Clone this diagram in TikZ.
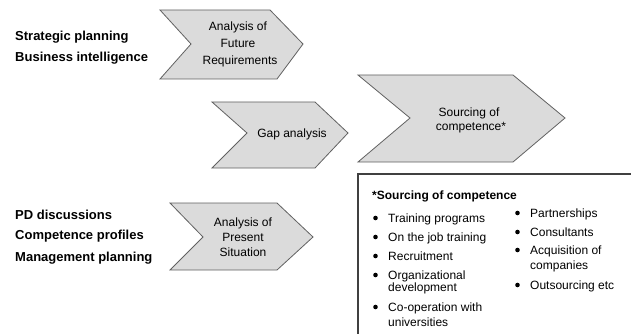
\documentclass[tikz,border=0pt]{standalone}
\usepackage{fontspec}
\setmainfont{Liberation Sans}
\begin{document}
\begin{tikzpicture}[x=1pt,y=-1pt,
  chev/.style={fill=black!14, draw=black!62, line width=0.8pt, line join=miter},
  chevtext/.style={font=\fontsize{12}{14}\selectfont, anchor=base, inner sep=0pt},
  lefttext/.style={font=\fontsize{13}{15}\selectfont\bfseries, anchor=base west, inner sep=0pt},
  boxtext/.style={font=\fontsize{12}{14}\selectfont, anchor=base west, inner sep=0pt},
  bul/.style={fill=black, draw=none, circle, inner sep=0pt, minimum size=4.6pt}]
\useasboundingbox (0,0) rectangle (631,334);
\fill[white] (0,0) rectangle (631,334);

% chevrons
\draw[chev] (160,10) -- (270,10) -- (303,44) -- (277,79) -- (160,79) -- (191,44) -- cycle;
\draw[chev] (212,102) -- (315,102) -- (348,133) -- (315,168) -- (212,168) -- (247,133) -- cycle;
\draw[chev] (358,75) -- (513,75) -- (565,118) -- (513,162) -- (358,162) -- (410,118) -- cycle;
\draw[chev] (170,203) -- (277,203) -- (313,237) -- (277,270) -- (170,270) -- (203,237) -- cycle;

% chevron texts
\node[chevtext] (f1) at (238,31) {Analysis of};
\node[chevtext] (f2) at (238,48) {Future};
\node[chevtext] (f3) at (240,65) {Requirements};
\node[chevtext] (g1) at (292,137) {Gap analysis};
\node[chevtext] (s1) at (469,117) {Sourcing of};
\node[chevtext] (s2) at (471,131) {competence*};
\node[chevtext] (p1) at (243,226) {Analysis of};
\node[chevtext] (p2) at (243,241) {Present};
\node[chevtext] (p3) at (243,256) {Situation};

% left texts
\node[lefttext] (l1) at (15,40.5) {Strategic planning};
\node[lefttext] (l2) at (15,61.5) {Business intelligence};
\node[lefttext] (l3) at (15,219.5) {PD discussions};
\node[lefttext] (l4) at (15,239.5) {Competence profiles};
\node[lefttext] (l5) at (15,261.5) {Management planning};

% box
\draw[draw=black!75, line width=1.3pt] (358,340) -- (358,174) -- (640,174);
\node[boxtext, font=\fontsize{12}{14}\selectfont\bfseries] (h) at (372,199.3) {*Sourcing of competence};

\node[bul] (b1) at (375.5,218) {};
\node[boxtext] (t1) at (388,222.3) {Training programs};
\node[bul] (b2) at (375.5,237) {};
\node[boxtext] (t2) at (388,241.3) {On the job training};
\node[bul] (b3) at (375.5,256) {};
\node[boxtext] (t3) at (388,260.3) {Recruitment};
\node[bul] (b4) at (375.5,275) {};
\node[boxtext] (t4a) at (388,279.3) {Organizational};
\node[boxtext] (t4b) at (388,291.3) {development};
\node[bul] (b5) at (375.5,307) {};
\node[boxtext] (t5a) at (388,311.3) {Co-operation with};
\node[boxtext] (t5b) at (388,326) {universities};

\node[bul] (c1) at (517.5,213) {};
\node[boxtext] (u1) at (530,217.3) {Partnerships};
\node[bul] (c2) at (517.5,232) {};
\node[boxtext] (u2) at (530,236.3) {Consultants};
\node[bul] (c3) at (517.5,250) {};
\node[boxtext] (u3a) at (530,254.3) {Acquisition of};
\node[boxtext] (u3b) at (530,269.3) {companies};
\node[bul] (c4) at (517.5,285) {};
\node[boxtext] (u4) at (530,289.3) {Outsourcing etc};
\end{tikzpicture}
\end{document}
